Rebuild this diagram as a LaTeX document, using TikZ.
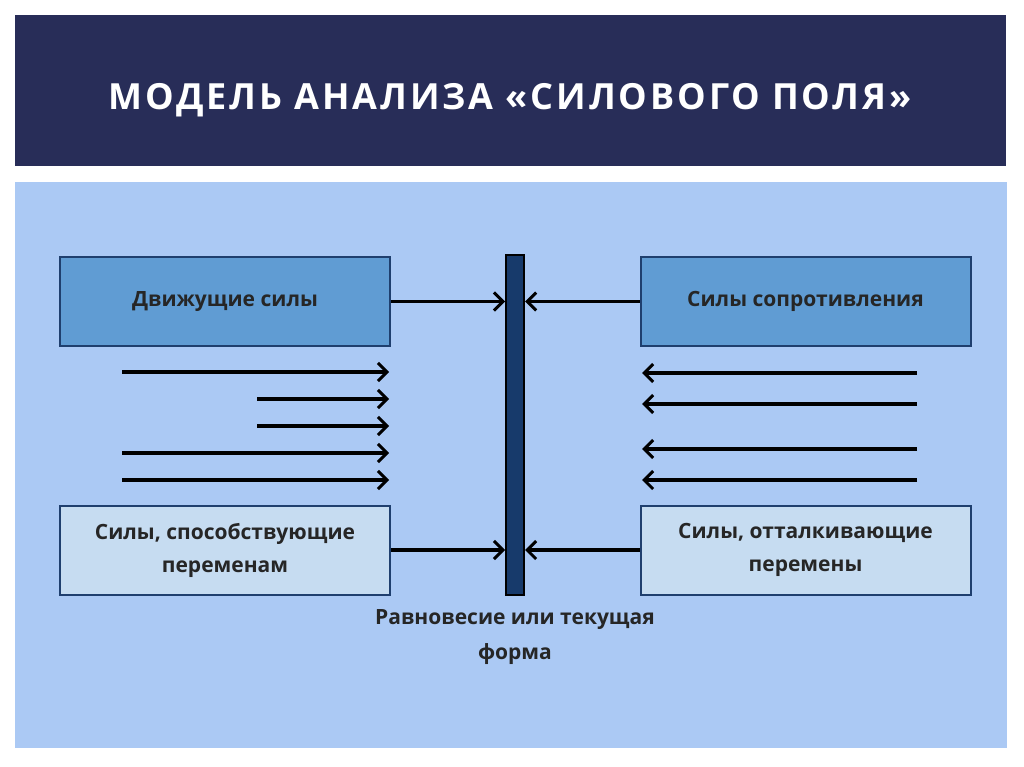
\documentclass[tikz,border=0pt]{standalone}
\usepackage{fontspec}
\setmainfont{Open Sans}
\usetikzlibrary{arrows.meta}
\definecolor{navy}{HTML}{282D58}
\definecolor{panel}{HTML}{ABC9F4}
\definecolor{midb}{HTML}{609CD3}
\definecolor{lightb}{HTML}{C6DCF1}
\definecolor{edge}{HTML}{1F3F6E}
\definecolor{barc}{HTML}{173A6B}
\begin{document}
\begin{tikzpicture}[x=1pt,y=-1pt,
  box/.style={draw=edge,line width=2pt,minimum width=330pt,minimum height=89pt,align=center,font=\bfseries\fontsize{21}{33}\selectfont,text=black!85},
  arr/.style={line width=3.5pt,-{Straight Barb[length=9pt,width=18pt,line width=3pt]}}]
\useasboundingbox (0,0) rectangle (1024,767);
\fill[white] (0,0) rectangle (1024,767);
\fill[navy] (15,15) rectangle (1006,166);
\node[text=white,font=\bfseries\fontsize{36}{40}\selectfont] (title) at (510,100) {\addfontfeature{LetterSpace=8}МОДЕЛЬ АНАЛИЗА «СИЛОВОГО ПОЛЯ»};
\fill[panel] (15,182) rectangle (1007,748);
\node[box,fill=midb] (df) at (225,301.5) {Движущие силы};
\node[box,fill=midb] (sr) at (805.5,301.5) {Силы сопротивления};
\node[box,fill=lightb] (sp) at (225,550) {Силы, способствующие\\переменам};
\node[box,fill=lightb] (so) at (805.5,550) {Силы, отталкивающие\\перемены};
\node[draw=black,line width=2pt,fill=barc,minimum width=18pt,minimum height=340pt,inner sep=0pt] (bar) at (515,425) {};
\draw[arr] (df.east) -- (bar.west |- df.east);
\draw[arr] (sr.west) -- (bar.east |- sr.west);
\draw[arr] (sp.east) -- (bar.west |- sp.east);
\draw[arr] (so.west) -- (bar.east |- so.west);
\foreach \i/\xa/\y in {1/122/372,2/257/399,3/257/426,4/122/453,5/122/480}{
  \coordinate (l\i a) at (\xa,\y); \coordinate (l\i b) at (389,\y);
  \draw[arr] (l\i a) -- (l\i b);}
\foreach \i/\y in {1/373,2/404,3/449,4/480}{
  \coordinate (r\i a) at (917,\y); \coordinate (r\i b) at (642,\y);
  \draw[arr] (r\i a) -- (r\i b);}
\node[align=center,font=\bfseries\fontsize{21}{35}\selectfont,text=black!85] (eq) at (515,637) {Равновесие или текущая\\форма};
\end{tikzpicture}
\end{document}
